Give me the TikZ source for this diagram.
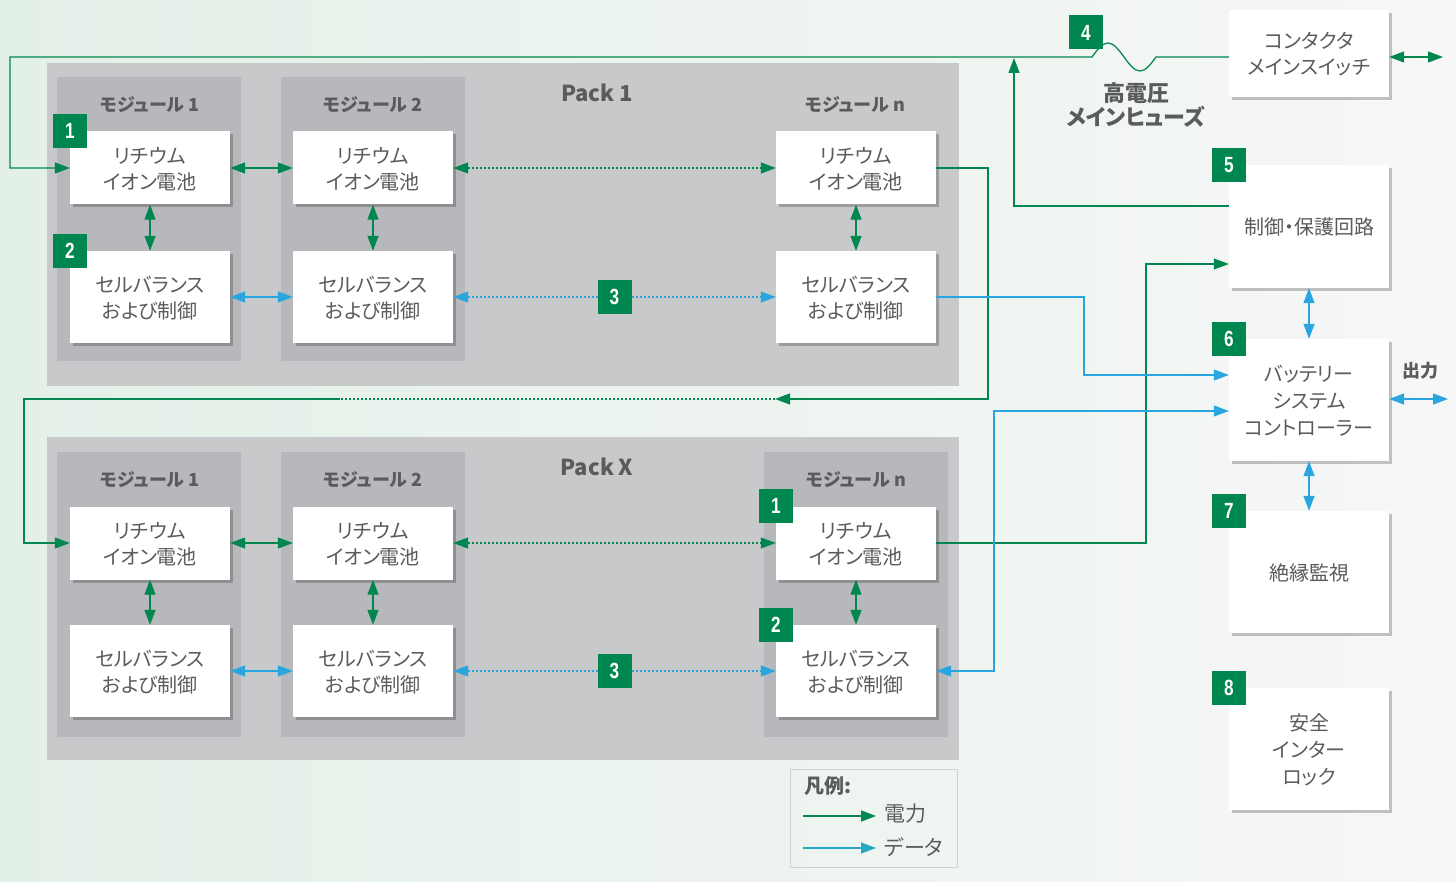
\documentclass[tikz,border=0pt]{standalone}
\usepackage{fontspec}
\setmainfont{Noto Sans CJK JP}[RawFeature=+palt]
\newfontfamily\numfont{Liberation Sans}[FakeStretch=0.78]
\usetikzlibrary{arrows.meta,shadows,calc}
\definecolor{pwr}{HTML}{00874F}
\definecolor{dat}{HTML}{29A6DF}
\definecolor{datleg}{HTML}{27A9C6}
\definecolor{packgray}{HTML}{C8C9CB}
\definecolor{modgray}{HTML}{B7B8BB}
\definecolor{txt}{HTML}{5A5B5D}
\definecolor{bgl}{HTML}{E3F0E8}
\definecolor{bgr}{HTML}{F6F7F6}
\definecolor{legline}{HTML}{CFD3D1}
\begin{document}
\begin{tikzpicture}[x=1pt,y=-1pt,
  >={Triangle[length=15pt,width=11pt]},
  box/.style={fill=white, align=center, text=txt, inner sep=0pt,
    font=\fontsize{20}{26}\selectfont, text depth=-2pt,
    drop shadow={shadow xshift=3pt, shadow yshift=-3pt, opacity=0.22, fill=black}},
  cellbox/.style={box, minimum width=160pt, minimum height=73pt},
  balbox/.style={box, minimum width=160pt, minimum height=92pt},
  rbox/.style={box, minimum width=160pt, minimum height=122pt},
  badge/.style={fill=pwr, text=white, minimum size=34pt, inner sep=0pt,
    font=\numfont\bfseries\fontsize{22}{22}\selectfont},
  modtitle/.style={text=txt, font=\bfseries\fontsize{18}{18}\selectfont},
  packtitle/.style={text=txt, font=\bfseries\fontsize{22}{22}\selectfont},
  pw/.style={draw=pwr, line width=1.25pt},
  dt/.style={draw=dat, line width=1.25pt},
  dotline/.style={dash pattern=on 2pt off 2pt}
]
\useasboundingbox (0,0) rectangle (1456,882);
\shade[left color=bgl, right color=bgr] (0,0) rectangle (1456,882);

% packs and modules
\fill[packgray] (47,63) rectangle (959,386);
\fill[packgray] (47,437) rectangle (959,760);
\fill[modgray] (57,77) rectangle (241,361);
\fill[modgray] (281,77) rectangle (465,361);
\fill[modgray] (57,452) rectangle (241,737);
\fill[modgray] (281,452) rectangle (465,737);
\fill[modgray] (764,452) rectangle (948,737);

\node[packtitle] (p1t) at (597,93) {Pack 1};
\node[packtitle] (pxt) at (597,467) {Pack X};
\node[modtitle] (m11t) at (150,105) {モジュール 1};
\node[modtitle] (m12t) at (373,105) {モジュール 2};
\node[modtitle] (m1nt) at (855,105) {モジュール n};
\node[modtitle] (mx1t) at (150,480) {モジュール 1};
\node[modtitle] (mx2t) at (373,480) {モジュール 2};
\node[modtitle] (mxnt) at (856,480) {モジュール n};

% boxes pack 1
\node[cellbox] (c11) at (150,168) {リチウム\\イオン電池};
\node[cellbox] (c12) at (373,168) {リチウム\\イオン電池};
\node[cellbox] (c1n) at (856,168) {リチウム\\イオン電池};
\node[balbox] (b11) at (150,297) {セルバランス\\および制御};
\node[balbox] (b12) at (373,297) {セルバランス\\および制御};
\node[balbox] (b1n) at (856,297) {セルバランス\\および制御};
% boxes pack X
\node[cellbox] (cX1) at (150,543) {リチウム\\イオン電池};
\node[cellbox] (cX2) at (373,543) {リチウム\\イオン電池};
\node[cellbox] (cXn) at (856,543) {リチウム\\イオン電池};
\node[balbox] (bX1) at (150,671) {セルバランス\\および制御};
\node[balbox] (bX2) at (373,671) {セルバランス\\および制御};
\node[balbox] (bXn) at (856,671) {セルバランス\\および制御};

% right column
\node[box, minimum width=160pt, minimum height=87pt] (ct) at (1309,53.5) {コンタクタ\\メインスイッチ};
\node[box, minimum width=160pt, minimum height=123pt] (cp) at (1309,226.5) {制御・保護回路};
\node[rbox, font=\fontsize{20}{27}\selectfont] (bsc) at (1309,400) {バッテリー\\システム\\コントローラー};
\node[rbox] (iso) at (1309,572) {絶縁監視};
\node[rbox, font=\fontsize{20}{27}\selectfont] (sil) at (1309,749) {安全\\インター\\ロック};

\node[text=txt, align=center, font=\bfseries\fontsize{22}{24}\selectfont] (fuse) at (1136,105) {高電圧\\メインヒューズ};
\node[modtitle] (outl) at (1420,371) {出力};

% coordinates
\coordinate (y57) at (0,57);
\coordinate (y206) at (0,206);
\coordinate (y264) at (0,264);
\coordinate (y375) at (0,375);
\coordinate (y411) at (0,411);
\coordinate (ctout) at (1443,57);
\coordinate (bscout) at (1448,399);

% power connectors inside packs
\draw[pw,<->] (c11.east) -- (c12.west);
\draw[pw,<->,dotline] (c12.east) -- (c1n.west);
\draw[pw,<->] (c11.south) -- (b11.north);
\draw[pw,<->] (c12.south) -- (b12.north);
\draw[pw,<->] (c1n.south) -- (b1n.north);
\draw[pw,<->] (cX1.east) -- (cX2.west);
\draw[pw,<->,dotline] (cX2.east) -- (cXn.west);
\draw[pw,<->] (cX1.south) -- (bX1.north);
\draw[pw,<->] (cX2.south) -- (bX2.north);
\draw[pw,<->] (cXn.south) -- (bXn.north);
% data inside packs
\draw[dt,<->] (b11.east) -- (b12.west);
\draw[dt,<->,dotline] (b12.east) -- (b1n.west);
\draw[dt,<->] (bX1.east) -- (bX2.west);
\draw[dt,<->,dotline] (bX2.east) -- (bXn.west);

% main power loop with fuse
\draw[pw,->] (ct.west |- y57) -- (1156,57) sin (1140,71) cos (1124,57) sin (1108,43) cos (1092,57) -- (10,57) |- (c11.west);
\draw[pw,->] (cp.west |- y206) -| (1014,58);
\draw[pw,->] (c1n.east) -- (988,168) |- (775,399);
\draw[pw,dotline] (775,399) -- (340,399);
\draw[pw,->] (340,399) -- (24,399) |- (cX1.west);
\draw[pw,->] (cXn.east) -- (1146,543) |- (cp.west |- y264);
\draw[pw,<->] (ct.east |- y57) -- (ctout);

% data to controller
\draw[dt,->] (b1n.east) -- (1084,297) |- (bsc.west |- y375);
\draw[dt,<->] (bsc.west |- y411) -- (994,411) |- (bXn.east);
\draw[dt,<->] (cp.south) -- (bsc.north);
\draw[dt,<->] (bsc.south) -- (iso.north);
\draw[dt,<->] (bsc.east |- bscout) -- (bscout);

% badges
\node[badge] (n1a) at (c11.north west) {1};
\node[badge] (n2a) at (b11.north west) {2};
\node[badge] (n3a) at ($(b12.east)!0.5!(b1n.west)$) {3};
\node[badge] (n1b) at (cXn.north west) {1};
\node[badge] (n2b) at (bXn.north west) {2};
\node[badge] (n3b) at ($(bX2.east)!0.5!(bXn.west)$) {3};
\node[badge] (n4) at (1086,32.5) {4};
\node[badge] (n5) at (cp.north west) {5};
\node[badge] (n6) at (bsc.north west) {6};
\node[badge] (n7) at (iso.north west) {7};
\node[badge] (n8) at (sil.north west) {8};

% legend
\node[draw=legline, line width=1pt, minimum width=167pt, minimum height=98pt, inner sep=0pt] (leg) at (873.5,818) {};
\node[text=txt, anchor=west, font=\bfseries\fontsize{20}{20}\selectfont] (legt) at (801,786) {凡例:};
\coordinate (lp1) at (803,816);
\coordinate (lp2) at (876,816);
\coordinate (ld1) at (803,848);
\coordinate (ld2) at (876,848);
\draw[pw,->] (lp1) -- (lp2);
\draw[draw=datleg, line width=1.25pt, ->] (ld1) -- (ld2);
\node[text=txt, anchor=west, font=\fontsize{21}{21}\selectfont] (legp) at (881,814) {電力};
\node[text=txt, anchor=west, font=\fontsize{21}{21}\selectfont] (legd) at (881,847) {データ};
\end{tikzpicture}
\end{document}
